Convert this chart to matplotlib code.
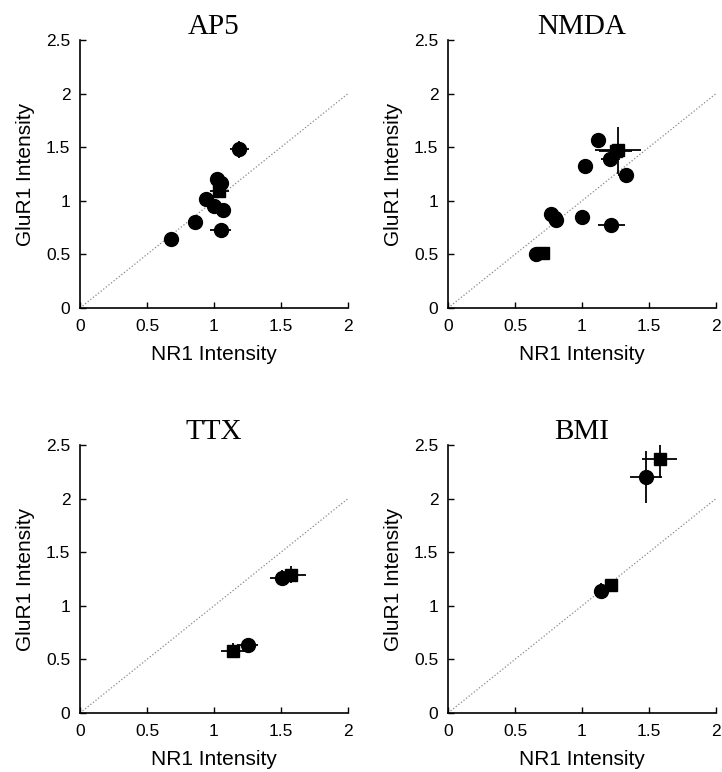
import matplotlib
matplotlib.use("Agg")
import matplotlib.pyplot as plt
import numpy as np

# ---- data ----
titles = ["AP5", "NMDA", "TTX", "BMI"]

ap5_x     = [0.68, 0.86, 0.94, 1.00, 1.025, 1.05, 1.04, 1.07, 1.05, 1.19]
ap5_y     = [0.64, 0.80, 1.02, 0.95, 1.20, 1.17, 1.09, 0.91, 0.73, 1.48]
ap5_xerr  = [0.01, 0.01, 0.01, 0.01, 0.01, 0.02, 0.07, 0.02, 0.08, 0.07]
ap5_yerr  = [0.01, 0.01, 0.02, 0.02, 0.03, 0.02, 0.02, 0.02, 0.02, 0.08]
ap5_mark  = ["o", "o", "o", "o", "o", "o", "s", "o", "o", "o"]

nmda_x    = [1.12, 1.27, 1.25, 1.21, 1.025, 1.33, 0.77, 0.805, 0.795, 1.00, 1.22, 0.655, 0.71]
nmda_y    = [1.57, 1.47, 1.46, 1.39, 1.32, 1.24, 0.88, 0.82, 0.84, 0.85, 0.77, 0.50, 0.51]
nmda_xerr = [0.01, 0.17, 0.12, 0.07, 0.01, 0.06, 0.01, 0.02, 0.02, 0.01, 0.10, 0.02, 0.04]
nmda_yerr = [0.01, 0.22, 0.06, 0.06, 0.06, 0.02, 0.02, 0.02, 0.03, 0.01, 0.01, 0.01, 0.01]
nmda_mark = ["o", "s", "s", "o", "o", "o", "o", "o", "o", "o", "o", "o", "s"]

ttx_x     = [1.14, 1.25, 1.51, 1.575]
ttx_y     = [0.58, 0.63, 1.26, 1.29]
ttx_xerr  = [0.09, 0.08, 0.09, 0.11]
ttx_yerr  = [0.07, 0.06, 0.07, 0.08]
ttx_mark  = ["s", "o", "o", "s"]

bmi_x     = [1.48, 1.58, 1.14, 1.22]
bmi_y     = [2.20, 2.37, 1.14, 1.19]
bmi_xerr  = [0.12, 0.13, 0.04, 0.04]
bmi_yerr  = [0.24, 0.18, 0.07, 0.05]
bmi_mark  = ["o", "s", "o", "s"]

panels = [
    (ap5_x, ap5_y, ap5_xerr, ap5_yerr, ap5_mark),
    (nmda_x, nmda_y, nmda_xerr, nmda_yerr, nmda_mark),
    (ttx_x, ttx_y, ttx_xerr, ttx_yerr, ttx_mark),
    (bmi_x, bmi_y, bmi_xerr, bmi_yerr, bmi_mark),
]

x_ticks = [0, 0.5, 1, 1.5, 2]
x_ticklabels = ["0", "0.5", "1", "1.5", "2"]
y_ticks = [0, 0.5, 1, 1.5, 2, 2.5]
y_ticklabels = ["0", "0.5", "1", "1.5", "2", "2.5"]

fig = plt.figure(figsize=(7.22, 7.72), dpi=100)
W, H = 722, 772
boxes = [(80, 40), (448, 40), (80, 445), (448, 445)]
aw, ah = 268, 268

for (px, py), title, (xs, ys, xe, ye, mk) in zip(boxes, titles, panels):
    ax = fig.add_axes([px / W, 1 - (py + ah) / H, aw / W, ah / H])
    ax.plot([0, 2], [0, 2], linestyle=":", color="#888888", linewidth=0.9, zorder=1)
    for x, y, dx, dy, m in zip(xs, ys, xe, ye, mk):
        ax.errorbar(x, y, xerr=dx, yerr=dy, fmt=m, color="black",
                    markersize=10 if m == "o" else 8.5, ecolor="black",
                    elinewidth=1.3, capsize=0, zorder=3)
    ax.set_xlim(0, 2)
    ax.set_ylim(0, 2.5)
    ax.set_xticks(x_ticks)
    ax.set_xticklabels(x_ticklabels)
    ax.set_yticks(y_ticks)
    ax.set_yticklabels(y_ticklabels)
    ax.tick_params(direction="in", length=4, width=1, labelsize=12.5)
    ax.tick_params(axis="x", pad=8)
    ax.tick_params(axis="y", pad=7)
    for lab in ax.get_xticklabels() + ax.get_yticklabels():
        lab.set_fontfamily("Liberation Sans")
    ax.spines["top"].set_visible(False)
    ax.spines["right"].set_visible(False)
    ax.spines["left"].set_linewidth(1.2)
    ax.spines["bottom"].set_linewidth(1.2)
    ax.set_xlabel("NR1 Intensity", fontsize=15, family="Liberation Sans", labelpad=8)
    ax.set_ylabel("GluR1 Intensity", fontsize=15, family="Liberation Sans", labelpad=8)
    ax.set_title(title, fontsize=21, family="Liberation Serif", pad=4)

fig.savefig("out.png", dpi=100)
